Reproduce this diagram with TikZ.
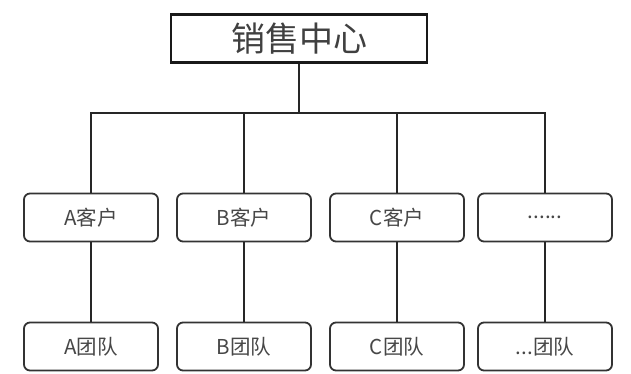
\documentclass[tikz,border=0pt]{standalone}
\usepackage{fontspec}
\setmainfont{Liberation Sans}
\newfontfamily\cjk{Noto Sans CJK SC}
\begin{document}
\begin{tikzpicture}[x=1pt,y=-1pt,
  conn/.style={line width=1.4pt,draw=black!85},
  topbox/.style={draw=black!90,line width=2.4pt,minimum width=256pt,minimum height=48pt,inner sep=0pt,text=black!75,font=\cjk\fontsize{34}{34}\selectfont},
  rbox/.style={draw=black!80,line width=1.8pt,rounded corners=6pt,minimum width=134pt,minimum height=48pt,inner sep=0pt,text=black!72,font=\cjk\fontsize{20.5}{20.5}\selectfont}]
\useasboundingbox (0,0) rectangle (631,374);
\fill[white] (0,0) rectangle (631,374);
\node[topbox] (top) at (299,38.5) {销售中心};
\node[rbox] (a1) at (91,217.5) {A客户};
\node[rbox] (b1) at (244,217.5) {B客户};
\node[rbox] (c1) at (397,217.5) {C客户};
\node[rbox] (d1) at (545,217.5) {......};
\node[rbox] (a2) at (91,346.5) {A团队};
\node[rbox] (b2) at (244,346.5) {B团队};
\node[rbox] (c2) at (397,346.5) {C团队};
\node[rbox] (d2) at (545,346.5) {...团队};
\coordinate (hub) at (299,113);
\draw[conn] (top.south) -- (hub);
\draw[conn] (a1.north) |- (hub);
\draw[conn] (d1.north) |- (hub);
\draw[conn] (b1.north) -- (b1.north |- hub);
\draw[conn] (c1.north) -- (c1.north |- hub);
\draw[conn] (a1) -- (a2);
\draw[conn] (b1) -- (b2);
\draw[conn] (c1) -- (c2);
\draw[conn] (d1) -- (d2);
\end{tikzpicture}
\end{document}
